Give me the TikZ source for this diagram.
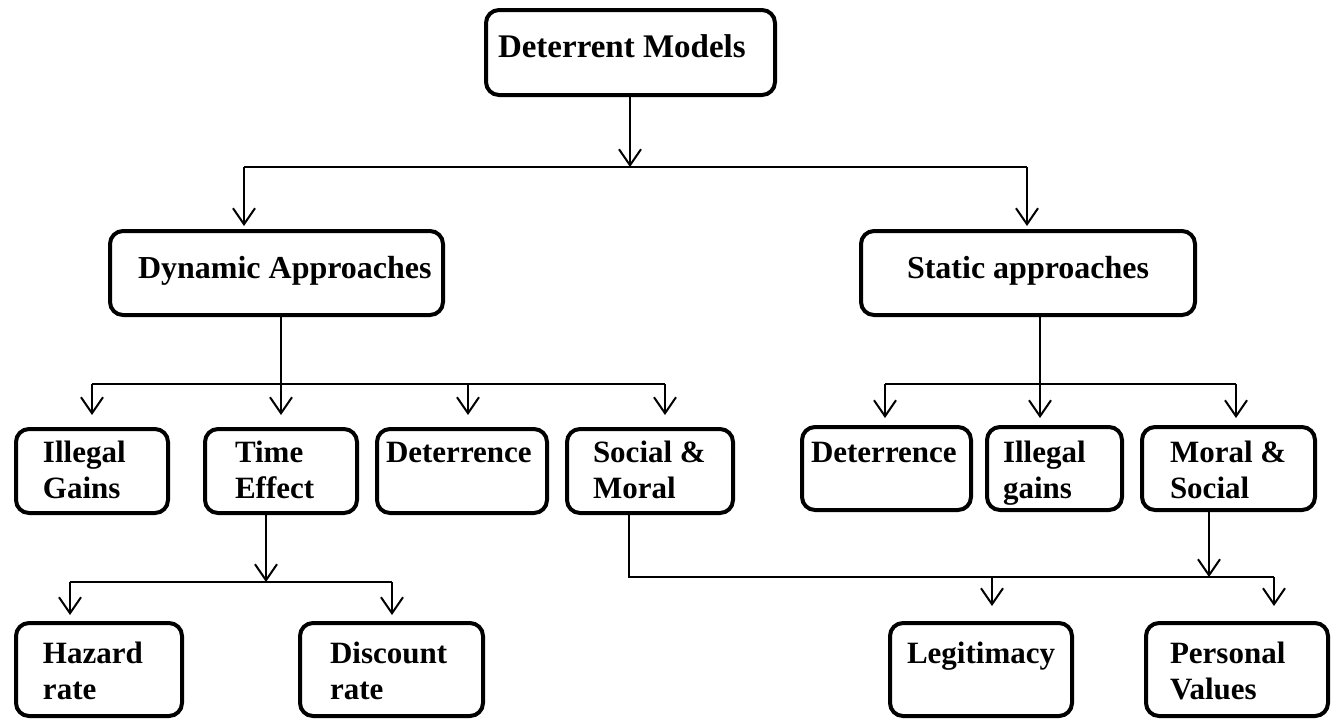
\documentclass[tikz,border=0pt]{standalone}
\usepackage{fontspec}
\setmainfont{Liberation Serif}
\usetikzlibrary{arrows.meta}

\tikzset{
  box/.style={draw, line width=4pt, rounded corners=13pt, inner sep=0pt,
    align=flush left, anchor=base west, font=\bfseries\fontsize{31}{36}\selectfont},
  textpad/.style={execute at begin node={\leftskip=#1}},
  mid/.style={box, font=\bfseries\fontsize{32}{38}\selectfont, text height=47pt, text depth=37pt},
  leafA/.style={box, text height=33pt, text depth=51pt},
  leafB/.style={box, text height=35pt, text depth=48pt},
  leafC/.style={box, text height=40pt, text depth=53pt},
  link/.style={line width=2pt},
  arr/.style={link, -{Straight Barb[length=16pt, width=22pt]}},
}

\begin{document}
\begin{tikzpicture}[x=1pt, y=-1pt]
    \useasboundingbox (0,0) rectangle (1336,721);

    % boxes
    \node[box, font=\bfseries\fontsize{33}{40}\selectfont, text width=289pt,
          text height=47pt, text depth=38pt, textpad=12pt] (top) at (484,57) {Deterrent Models};

    \node[mid, text width=333pt, textpad=28pt] (dyn) at (108,278) {Dynamic Approaches};
    \node[mid, text width=334pt, textpad=46pt] (stat) at (859,278) {Static approaches};

    \node[leafA, text width=152pt, textpad=27pt] (gain1) at (14,462) {Illegal\\Gains};
    \node[leafA, text width=152pt, textpad=30pt] (time) at (203,462) {Time\\Effect};
    \node[leafA, text width=170pt, textpad=9pt] (det1) at (375,462) {Deterrence};
    \node[leafA, text width=166pt, textpad=26pt] (soc) at (565,462) {Social \&\\Moral};

    \node[leafB, text width=169pt, textpad=9pt] (det2) at (800,462) {Deterrence};
    \node[leafB, text width=135pt, textpad=16pt] (gain2) at (985,462) {Illegal\\gains};
    \node[leafB, text width=173pt, textpad=28pt] (moral) at (1140,462) {Moral \&\\Social};

    \node[leafC, text width=166pt, textpad=27pt] (haz) at (14,663) {Hazard\\rate};
    \node[leafC, text width=183pt, textpad=30pt] (disc) at (298,663) {Discount\\rate};
    \node[leafC, text width=182pt, textpad=17pt] (legit) at (888,663) {Legitimacy};
    \node[leafC, text width=182pt, textpad=24pt] (pers) at (1144,663) {Personal\\Values};

    % top level
    \coordinate (j1) at (630,167);
    \coordinate (b1l) at (244,167);
    \coordinate (b1r) at (1027,167);
    \draw[arr] (top.south -| j1) -- (j1);
    \draw[link] (b1l) -- (b1r);
    \draw[arr, shorten >=3pt] (b1l) -- (b1l |- dyn.north);
    \draw[arr, shorten >=3pt] (b1r) -- (b1r |- stat.north);

    % dynamic branch
    \coordinate (b2l) at (92,384);
    \coordinate (b2m) at (468,384);
    \coordinate (b2r) at (665,384);
    \draw[arr, shorten >=12pt] (dyn.south -| time) -- (time.north);
    \draw[link] (b2l) -- (b2r);
    \draw[arr, shorten >=12pt] (b2l) -- (b2l |- gain1.north);
    \draw[arr, shorten >=12pt] (b2m) -- (b2m |- det1.north);
    \draw[arr, shorten >=12pt] (b2r) -- (b2r |- soc.north);

    \coordinate (j3) at (266,582);
    \coordinate (b3l) at (70,582);
    \coordinate (b3r) at (392,582);
    \draw[arr] (time.south -| j3) -- (j3);
    \draw[link] (b3l) -- (b3r);
    \draw[arr, shorten >=6pt] (b3l) -- (b3l |- haz.north);
    \draw[arr, shorten >=6pt] (b3r) -- (b3r |- disc.north);

    % static branch
    \coordinate (j4) at (1040,384);
    \coordinate (b4l) at (885,384);
    \coordinate (b4r) at (1236,384);
    \draw[arr, shorten >=7pt] (stat.south -| j4) -- (j4 |- gain2.north);
    \draw[link] (b4l) -- (b4r);
    \draw[arr, shorten >=7pt] (b4l) -- (b4l |- det2.north);
    \draw[arr, shorten >=7pt] (b4r) -- (b4r |- moral.north);

    % social / moral to the values
    \coordinate (j5) at (1209,577);
    \coordinate (b5l) at (629,577);
    \coordinate (b5m) at (992,577);
    \coordinate (b5r) at (1274,577);
    \draw[link] (soc.south -| b5l) -- (b5l) -- (b5r);
    \draw[arr] (moral.south -| j5) -- (j5);
    \draw[arr, shorten >=15pt] (b5m) -- (b5m |- legit.north);
    \draw[arr, shorten >=15pt] (b5r) -- (b5r |- pers.north);
\end{tikzpicture}
\end{document}
